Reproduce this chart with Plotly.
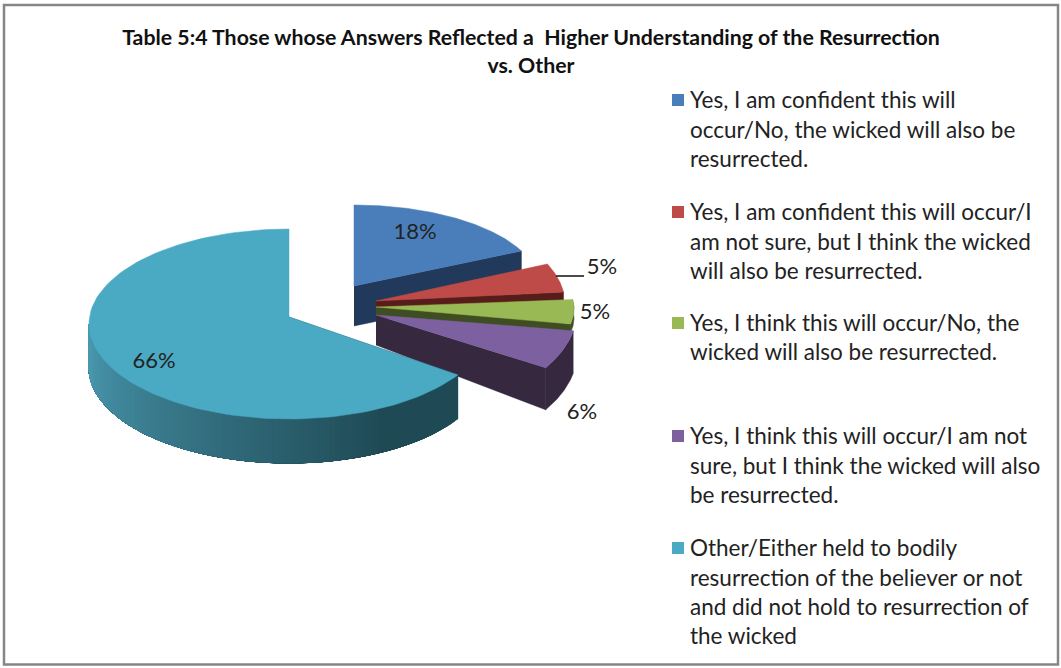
import numpy as np
import plotly.graph_objects as go

TITLE = "Table 5:4 Those whose Answers Reflected a  Higher Understanding of the Resurrection<br>vs. Other"
CATEGORIES = [
    "Yes, I am confident this will occur/No, the wicked will also be resurrected.",
    "Yes, I am confident this will occur/I am not sure, but I think the wicked will also be resurrected.",
    "Yes, I think this will occur/No, the wicked will also be resurrected.",
    "Yes, I think this will occur/I am not sure, but I think the wicked will also be resurrected.",
    "Other/Either held to bodily resurrection of the believer or not and did not hold to resurrection of the wicked",
]
VALUES = [18, 5, 5, 6, 66]
LEGEND_LINES = [
    ["Yes, I am confident this will", "occur/No, the wicked will also be", "resurrected."],
    ["Yes, I am confident this will occur/I", "am not sure, but I think the wicked", "will also be resurrected."],
    ["Yes, I think this will occur/No, the", "wicked will also be resurrected."],
    ["Yes, I think this will occur/I am not", "sure, but I think the wicked will also", "be resurrected."],
    ["Other/Either held to bodily", "resurrection of the believer or not", "and did not hold to resurrection of", "the wicked"],
]

# Styling and layout of the projected pie (pixel-like axes)
FACE = ["#4a7ebb", "#be4b48", "#98b954", "#7d60a0", "#4aa9c3"]
WALL = ["#21395a", "#571d1b", "#3f4d22", "#35283f", "#1f4a55"]
# cx, cy: ellipse centre; apex_y: tip of the slice; a, b: semi-axes; depth at rim, depth at tip
GEOM = [
    dict(cx=354, cy=285, apex_y=286, a=185, b=80, d=40, d0=40),
    dict(cx=376, cy=304, apex_y=301, a=189, b=95, d=40, d0=6),
    dict(cx=376, cy=309, apex_y=307, a=198, b=80, d=9, d0=9),
    dict(cx=376, cy=311, apex_y=315, a=201, b=106, d=42, d0=30),
    dict(cx=289, cy=324, apex_y=317, a=200, b=95, d=44, d0=44),
]
LABEL_POS = [(415, 233), (602, 268), (595, 313), (582, 413), (154, 362)]
LEGEND_X, TEXT_X = 678, 689
LEGEND_Y = [[99, 129, 158], [211, 241, 270], [322, 351], [435, 465, 494], [547, 577, 606, 635]]
FONT = "Lato"
TEXT_SIZE, LABEL_SIZE, TITLE_SIZE = 22.5, 22, 21.3

fig = go.Figure()
cum = np.cumsum([0] + VALUES) / sum(VALUES) * 2 * np.pi


def arc(g, t0, t1, dy=0, n=120):
    t = np.linspace(t0, t1, n)
    return g["cx"] + g["a"] * np.sin(t), g["cy"] - g["b"] * np.cos(t) + dy


def poly(x, y, color, line=None, width=0):
    fig.add_trace(go.Scatter(
        x=list(x), y=list(y), mode="lines", fill="toself", fillcolor=color,
        line=dict(color=line or color, width=width or 0.5),
        hoverinfo="skip", showlegend=False))


def lerp(c0, c1, f):
    a = [int(c0[i:i + 2], 16) for i in (1, 3, 5)]
    b = [int(c1[i:i + 2], 16) for i in (1, 3, 5)]
    return "rgb({},{},{})".format(*[round(p + (q - p) * f) for p, q in zip(a, b)])


for i in range(5):
    g, t0, t1 = GEOM[i], cum[i], cum[i + 1]
    ax, ay = g["cx"], g["apex_y"]
    ex0, ey0 = arc(g, t0, t0, n=1)
    ex1, ey1 = arc(g, t1, t1, n=1)
    # Cut wall running from the tip to the nearest rim end
    if i < 4:
        poly([ax, ex1[0], ex1[0], ax], [ay, ey1[0], ey1[0] + g["d"], ay + g["d0"]], WALL[i])
    else:
        poly([ax, ex0[0], ex0[0], ax], [ay, ey0[0], ey0[0] + g["d"], ay + g["d0"]], WALL[i])
    # Outer rim wall
    if i == 4:
        # shaded from the right corner towards the left edge; each band overlaps the next
        mid = 1.5 * np.pi
        edges = np.linspace(t0, mid, 91)
        for k in range(90):
            f = min(1, 1.25 * (1 - k / 89))
            top_x, top_y = arc(g, edges[k], mid, n=40)
            bx, by = arc(g, edges[k], mid, dy=g["d"], n=40)
            poly(np.r_[top_x, bx[::-1]], np.r_[top_y, by[::-1]], lerp("#4b9cb3", WALL[4], f))
    elif np.sin(t1) < np.sin(t0) or i == 3:
        ux, uy = arc(g, t0, t1)
        bx, by = arc(g, t0, t1, dy=g["d"])
        poly(np.r_[ux, bx[::-1]], np.r_[uy, by[::-1]], WALL[i])
    # Top face
    x, y = arc(g, t0, t1)
    poly(np.r_[ax, x, ax], np.r_[ay, y, ay], FACE[i], line=FACE[i], width=0.5)

# Leader line of the red slice
fig.add_trace(go.Scatter(x=[556, 584], y=[276, 276], mode="lines",
                         line=dict(color="#111111", width=1.5),
                         hoverinfo="skip", showlegend=False))

# Data labels
fig.add_trace(go.Scatter(
    x=[p[0] for p in LABEL_POS], y=[p[1] for p in LABEL_POS], mode="text",
    text=[f"{v}%" for v in VALUES], textposition="middle center",
    textfont=dict(family=FONT, size=LABEL_SIZE, color="#222222"),
    hoverinfo="skip", showlegend=False))

# Legend keys and texts
fig.add_trace(go.Scatter(
    x=[LEGEND_X] * 5, y=[ys[0] + 1 for ys in LEGEND_Y], mode="markers",
    marker=dict(symbol="square", size=12, color=FACE, line=dict(width=0)),
    hovertext=CATEGORIES, hoverinfo="text", showlegend=False))
for lines, ys in zip(LEGEND_LINES, LEGEND_Y):
    for s, yy in zip(lines, ys):
        fig.add_annotation(x=TEXT_X, y=yy, text=s, showarrow=False, xanchor="left", yanchor="middle",
                           xref="x", yref="y", borderpad=0,
                           font=dict(family=FONT, size=TEXT_SIZE, color="#222222"))

# Chart frame
fig.add_shape(type="rect", x0=4, y0=5, x1=1058, y1=664.5, line=dict(color="#868686", width=2.5), fillcolor="rgba(0,0,0,0)")

fig.update_layout(
    width=1061, height=668, autosize=False,
    margin=dict(l=0, r=0, t=0, b=0),
    paper_bgcolor="white", plot_bgcolor="white",
    title=dict(text=TITLE, x=531 / 1061, xanchor="center", y=1 - 45 / 668, yanchor="middle",
               font=dict(family=FONT, size=TITLE_SIZE, color="#111111", weight="bold")),
    xaxis=dict(range=[0, 1061], visible=False, fixedrange=True),
    yaxis=dict(range=[668, 0], visible=False, fixedrange=True),
    showlegend=False,
)
fig.write_html("out.html", config={"displayModeBar": False},
               post_script="document.body.style.margin='0';document.documentElement.style.overflow='hidden';window.dispatchEvent(new Event('resize'));")
